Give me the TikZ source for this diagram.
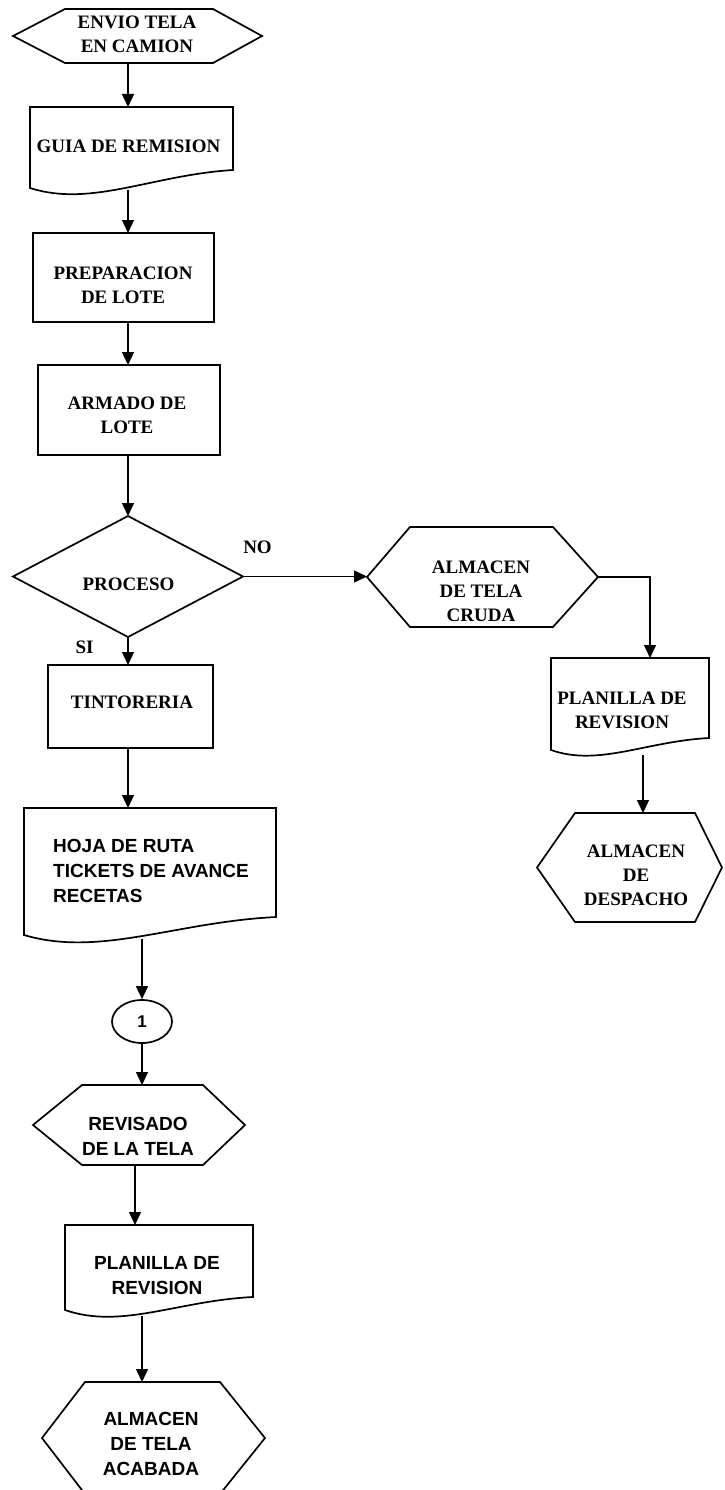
\documentclass[tikz,border=0pt]{standalone}
\usepackage{fontspec}
\setmainfont{Liberation Serif}
\newfontfamily\sanstext{Liberation Sans}
\usetikzlibrary{arrows.meta,calc,shapes.geometric}

% hexagon drawn on the anchors of a holder node: #2 = left inset, #3 = right inset
\newcommand{\hexoutline}[3]{%
  \draw[shapeline] (#1.west) -- ([xshift=#2pt]#1.north west) -- ([xshift=-#3pt]#1.north east)
    -- (#1.east) -- ([xshift=-#3pt]#1.south east) -- ([xshift=#2pt]#1.south west) -- cycle;}
% document symbol: #2 = depth of the dip, #3 = rise of the right end of the wavy bottom
\newcommand{\docoutline}[3]{%
  \draw[shapeline] (#1.south west) -- (#1.north west) -- (#1.north east) -- ([yshift=#3pt]#1.south east)
    .. controls ($(#1.south west)!0.6!(#1.south east)+(0pt,0.72*#3pt)$)
    and ($(#1.south west)!0.3!(#1.south east)+(0pt,-2.8*#2pt)$) .. (#1.south west) -- cycle;}

\begin{document}
\begin{tikzpicture}[x=1pt,y=-1pt,
  holder/.style={rectangle, inner sep=0pt, outer sep=0pt},
  shapeline/.style={line width=1.7pt, line join=miter},
  procbox/.style={holder, draw, line width=1.7pt},
  serifb/.style={font=\fontsize{19}{24}\selectfont\bfseries, align=center, inner sep=0pt},
  sansb/.style={font=\sanstext\fontsize{19}{25}\selectfont\bfseries, align=center, inner sep=0pt},
  flowarrow/.style={line width=1.4pt, -{Triangle[length=13pt,width=12pt]}}]

\fill[white] (0,0) rectangle (724,1490);
\useasboundingbox (0,0) rectangle (724,1490);

% ---- main column ----
\node[holder, minimum width=249pt, minimum height=54pt] (envio) at (137.5,36) {};
\hexoutline{envio}{52}{49}
\node[serifb] (envio-t) at (137,34.5) {ENVIO TELA\\EN CAMION};

\node[holder, minimum width=203pt, minimum height=81pt] (guia) at (131.5,147.5) {};
\docoutline{guia}{7}{18}
\node[serifb] (guia-t) at (128.5,146.5) {GUIA DE REMISION};

\node[procbox, minimum width=181pt, minimum height=89pt] (prep) at (123.5,277.5) {};
\node[serifb] (prep-t) at (123,285) {PREPARACION\\DE LOTE};

\node[procbox, minimum width=182pt, minimum height=90pt] (arm) at (129,410) {};
\node[serifb] (arm-t) at (127,415.5) {ARMADO DE\\LOTE};

\node[holder, minimum width=230pt, minimum height=121pt] (proc) at (128,576.5) {};
\draw[shapeline] (proc.north) -- (proc.east) -- (proc.south) -- (proc.west) -- cycle;
\node[serifb] (proc-t) at (128.5,584.5) {PROCESO};
\node[serifb] (no-l) at (257.5,547) {NO};
\node[serifb] (si-l) at (84.5,647) {SI};

\node[procbox, minimum width=165pt, minimum height=83pt] (tint) at (130.5,706.5) {};
\node[serifb] (tint-t) at (132,702) {TINTORERIA};

\node[holder, minimum width=252pt, minimum height=127pt] (hoja) at (150,871.5) {};
\docoutline{hoja}{8}{18}
\node[sansb, align=left, anchor=west] (hoja-t) at (53,870.5) {HOJA DE RUTA\\TICKETS DE AVANCE\\RECETAS};

\node[draw, ellipse, line width=1.7pt, inner sep=0pt, minimum width=60pt, minimum height=43pt,
      font=\sanstext\fontsize{17}{20}\selectfont\bfseries] (conn) at (142,1021.5) {1};

\node[holder, minimum width=212pt, minimum height=80pt] (revi) at (139,1125) {};
\hexoutline{revi}{49}{42}
\node[sansb] (revi-t) at (138,1136) {REVISADO\\DE LA TELA};

\node[holder, minimum width=188pt, minimum height=85pt] (planl) at (159,1267.5) {};
\docoutline{planl}{7}{13}
\node[sansb] (planl-t) at (157,1276) {PLANILLA DE\\REVISION};

\node[holder, minimum width=223pt, minimum height=112pt] (acab) at (153.5,1438) {};
\hexoutline{acab}{43}{45}
\node[sansb] (acab-t) at (151,1443.5) {ALMACEN\\DE TELA\\ACABADA};

% ---- right branch ----
\node[holder, minimum width=231pt, minimum height=100pt] (crud) at (482.5,577) {};
\hexoutline{crud}{43}{45}
\node[serifb] (crud-t) at (481,591) {ALMACEN\\DE TELA\\CRUDA};

\node[holder, minimum width=158pt, minimum height=92pt] (planr) at (630,704) {};
\docoutline{planr}{6}{12}
\node[serifb] (planr-t) at (622,710) {PLANILLA DE\\REVISION};

\node[holder, minimum width=185pt, minimum height=109pt] (desp) at (629.5,867.5) {};
\hexoutline{desp}{38}{27}
\node[serifb] (desp-t) at (636,875) {ALMACEN\\DE\\DESPACHO};

% ---- connectors ----
\draw[flowarrow] (envio.south -| proc.north) -- (guia.north -| proc.north);
\draw[flowarrow] ([yshift=-2pt]guia.south -| proc.north) -- (prep.north -| proc.north);
\draw[flowarrow] (prep.south -| proc.north) -- (arm.north -| proc.north);
\draw[flowarrow] (arm.south -| proc.north) -- (proc.north);
\draw[flowarrow] (proc.south) -- (tint.north -| proc.south);
\draw[flowarrow] (tint.south -| proc.south) -- (hoja.north -| proc.south);
\draw[flowarrow] ([yshift=-4pt]hoja.south -| conn.north) -- (conn.north);
\draw[flowarrow] (conn.south) -- (revi.north -| conn.south);
\draw[flowarrow] ([xshift=-4pt]revi.south) -- ([xshift=-4pt]revi.south |- planl.north);
\draw[flowarrow] ([yshift=-6pt]planl.south -| conn.south) -- (acab.north -| conn.south);

\draw[flowarrow] (proc.east) -- (proc.east -| crud.west);
\draw[flowarrow] (crud.east) -| ([xshift=20pt]planr.north);
\draw[flowarrow] ([xshift=13pt,yshift=-5pt]planr.south) -- ([xshift=13pt]planr.south |- desp.north);
\end{tikzpicture}
\end{document}
